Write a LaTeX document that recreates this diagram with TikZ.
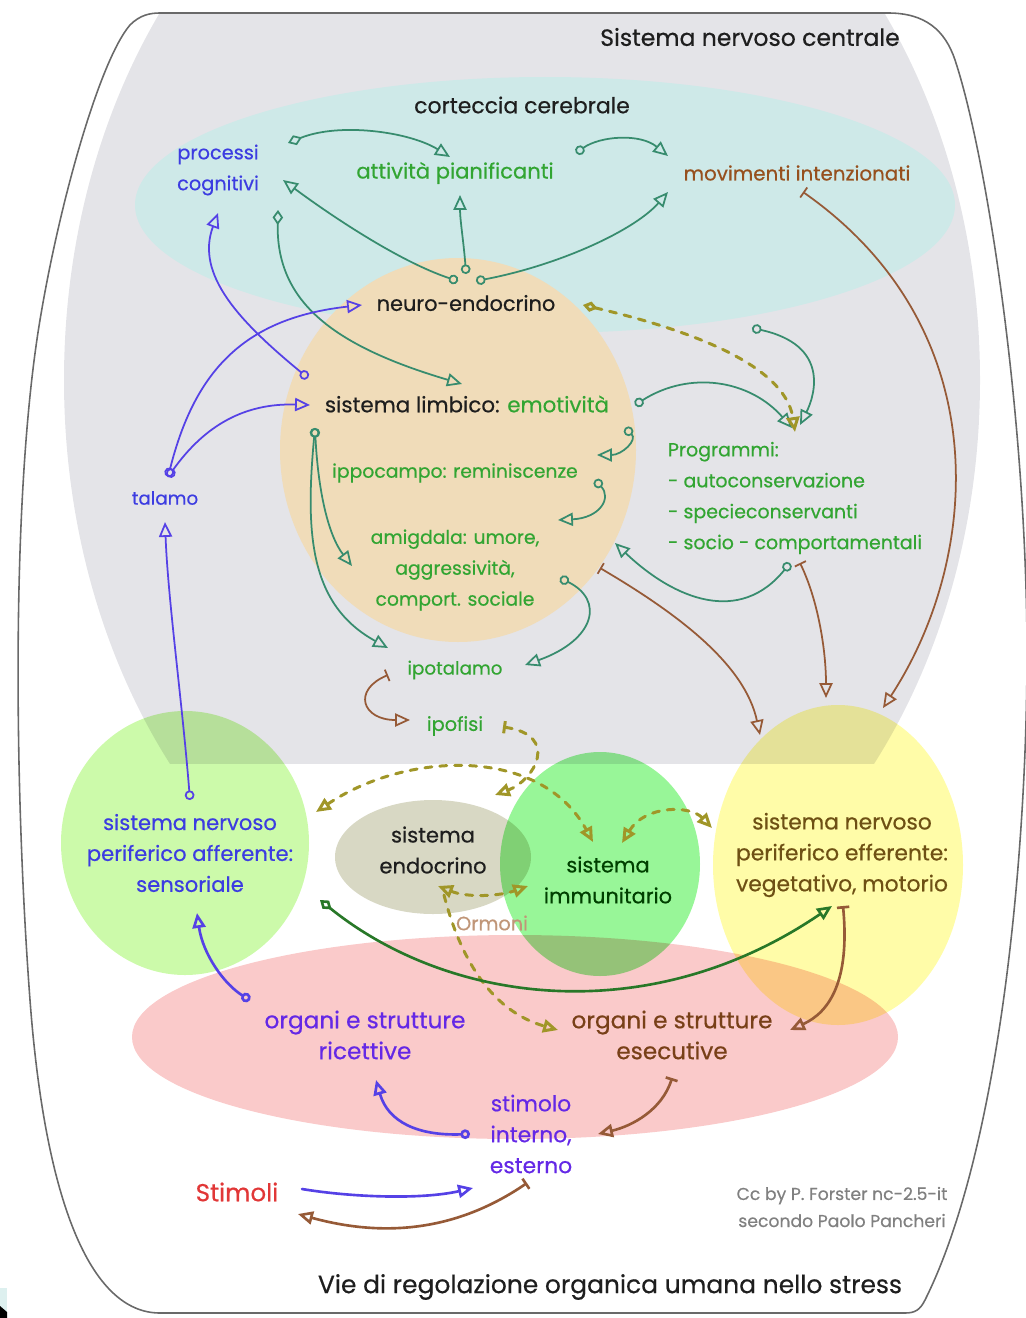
\documentclass[tikz,border=0pt]{standalone}
\usepackage{fontspec}
\setmainfont{Poppins}[FakeBold=0.5]
\usetikzlibrary{arrows.meta}
\tikzset{
  tri/.tip={Triangle[open,length=8.5pt,width=7.5pt]},
  ring/.tip={Circle[open,length=5.5pt]},
  dia/.tip={Diamond[open,length=8.5pt,width=6pt]},
  stop/.tip={Bar[width=7pt]},
  lbl/.style={align=center, inner sep=2pt, font=\txtsize{#1}},
  lbl/.default=11,
  link/.style={line width=1pt, line cap=round},
  link-teal/.style={link, draw=linkteal},
  link-blue/.style={link, draw=linkblue},
  link-brown/.style={link, draw=linkbrown},
  link-strong/.style={line width=1.5pt},
  link-dash/.style={link, draw=hormone, line width=1.7pt, dash pattern=on 4pt off 4.5pt},
  blob/.style={blend mode=multiply}
}
\definecolor{inkblack}{RGB}{30,30,30}
\definecolor{framegray}{RGB}{105,105,105}
\definecolor{cnsgray}{RGB}{228,228,232}
\definecolor{cortexcyan}{RGB}{206,233,232}
\definecolor{limbicpeach}{RGB}{240,220,185}
\definecolor{affgreen}{RGB}{204,250,170}
\definecolor{endogray}{RGB}{216,216,196}
\definecolor{immugreen}{RGB}{152,246,152}
\definecolor{effyellow}{RGB}{255,252,168}
\definecolor{organpink}{RGB}{250,202,202}
\definecolor{txtgreen}{RGB}{50,165,50}
\definecolor{txtblue}{RGB}{60,60,225}
\definecolor{txtviolet}{RGB}{100,40,230}
\definecolor{txtbrown}{RGB}{150,80,30}
\definecolor{txtolive}{RGB}{110,80,20}
\definecolor{txtred}{RGB}{225,55,55}
\definecolor{linkteal}{RGB}{55,140,110}
\definecolor{linkblue}{RGB}{85,65,230}
\definecolor{linkbrown}{RGB}{150,90,55}
\definecolor{linkgreen}{RGB}{40,120,40}
\definecolor{hormone}{RGB}{160,150,40}
\newcommand{\txtsize}[1]{\fontsize{#1}{17.6}\selectfont}
\newcommand{\stressframe}[1]{
  \path[#1] (160,13) -- (888,13)
    .. controls (925,13) and (945,30) .. (955,60)
    .. controls (985,150) and (1025,400) .. (1027,640)
    .. controls (1028,850) and (1000,1150) .. (925,1300)
    .. controls (920,1310) and (915,1313) .. (905,1313)
    -- (160,1313)
    .. controls (90,1313) and (45,1200) .. (30,1000)
    .. controls (15,800) and (10,500) .. (40,320)
    .. controls (60,200) and (100,60) .. (130,25)
    .. controls (140,15) and (150,13) .. (160,13) -- cycle;
}

\begin{document}
\begin{tikzpicture}[x=0.02cm, y=-0.02cm]
  \useasboundingbox (0,0) rectangle (1025,1318);
  % Central nervous system (Background)
  \begin{scope}
    \stressframe{clip}
    \clip (0,0) rectangle (1025,763);
    \fill[cnsgray] (522,380) ellipse [x radius=458, y radius=600];
  \end{scope}
  \fill[cortexcyan] (545,205) ellipse [x radius=410, y radius=128];
  \fill[limbicpeach] (458,450) ellipse [x radius=178, y radius=192];
  % Peripheral systems and organs
  \begin{scope}[blob]
    \fill[affgreen] (185,843) ellipse [x radius=124, y radius=132];
    \fill[endogray] (433,857) ellipse [x radius=98, y radius=57];
    \fill[immugreen] (600,864) ellipse [x radius=100, y radius=112];
    \fill[effyellow] (838,865) ellipse [x radius=125, y radius=160];
    \fill[organpink] (515,1037) ellipse [x radius=383, y radius=102];
  \end{scope}
  \stressframe{draw=framegray, line width=0.9pt}
  \fill[cortexcyan!70!white] (0,1288) rectangle (7,1318);
  \fill[black] (0,1318) -- (0,1306) -- (7,1312) -- (7,1318) -- cycle;

  % Labels
  \node[lbl=13.4, text=inkblack] (cns) at (750,37) {Sistema nervoso centrale};
  \node[lbl=12.5, text=inkblack] (cortex) at (522,105) {corteccia cerebrale};
  \node[lbl, text=txtblue] (procog) at (218,170) {processi\\cognitivi};
  \node[lbl=12, text=txtgreen] (plan) at (455,173) {attività pianificanti};
  \node[lbl=11.3, text=txtbrown] (moves) at (797,173) {movimenti intenzionati};
  \node[lbl=11.9, text=inkblack] (neuro) at (466,303) {neuro-endocrino};
  \node[lbl=12.2, text=inkblack] (limbic) at (467,404) {sistema limbico: {\color{txtgreen}emotività}};
  \node[lbl=10.7, text=txtgreen] (hippo) at (455,473) {ippocampo: reminiscenze};
  \node[lbl=10.7, text=txtgreen] (amyg) at (455,570) {amigdala: umore,\\aggressività,\\comport. sociale};
  \node[lbl=10.4, text=txtgreen] (hypoth) at (455,670) {ipotalamo};
  \node[lbl=11, text=txtgreen] (pituit) at (455,726) {ipofisi};
  \node[lbl=10.4, text=txtblue] (thal) at (165,498) {talamo};
  \node[lbl=10.8, text=txtgreen, align=left] (progr) at (795,498) {Programmi:\\- autoconservazione\\- specieconservanti\\- socio - comportamentali};
  \node[lbl=12, text=txtblue] (aff) at (190,853) {sistema nervoso\\periferico afferente:\\sensoriale};
  \node[lbl=12, text=inkblack] (endo) at (433,850) {sistema\\endocrino};
  \node[lbl=11.9, text=green!25!black] (immu) at (608,880) {sistema\\immunitario};
  \node[lbl=12.4, text=txtolive] (eff) at (842,855) {sistema nervoso\\periferico efferente:\\vegetativo, motorio};
  \node[lbl, text=txtbrown!60!white] (ormoni) at (492,923) {Ormoni};
  \node[lbl=13.2, text=txtviolet] (recep) at (365,1035) {organi e strutture\\ricettive};
  \node[lbl=13.2, text=txtbrown!80!black] (exec) at (672,1035) {organi e strutture\\esecutive};
  \node[lbl=12.4, text=txtviolet] (stimin) at (531,1134) {stimolo\\interno,\\esterno};
  \node[lbl=14, text=txtred] (stimuli) at (237,1192) {Stimoli};
  \node[lbl, text=gray, font=\fontsize{9.8}{15.4}\selectfont] (credit) at (842,1207) {Cc by P. Forster nc-2.5-it\\secondo Paolo Pancheri};
  \node[lbl=14.2, text=inkblack] (title) at (610,1287) {Vie di regolazione organica umana nello stress};

  % Cortex links
  \draw[link-teal, dia-tri] ([shift={(70,-27)}]procog.center) .. controls (340,122) and (410,132) .. ([shift={(-5,-16)}]plan.center);
  \draw[link-teal, ring-tri] ([shift={(121,-20)}]plan.center) .. controls (600,136) and (640,133) .. ([shift={(-129,-17)}]moves.center);
  \draw[link-teal, ring-tri] ([shift={(-8,-22)}]neuro.center) .. controls (400,262) and (330,215) .. ([shift={(65,10)}]procog.center);
  \draw[link-teal, ring-tri] ([shift={(0,-29)}]neuro.center) .. controls (464,245) and (460,220) .. ([shift={(5,22)}]plan.center);
  \draw[link-teal, ring-tri] ([shift={(10,-22)}]neuro.center) .. controls (560,265) and (635,230) .. ([shift={(-129,19)}]moves.center);
  \draw[link-teal, dia-tri] ([shift={(60,40)}]procog.center) .. controls (276,300) and (330,345) .. ([shift={(-5,-20)}]limbic.center);
  % Thalamus links
  \draw[link-blue, ring-tri] ([shift={(-159,-26)}]limbic.center) .. controls (240,322) and (195,275) .. ([shift={(0,43)}]procog.center);
  \draw[link-blue, ring-tri] ([shift={(3,-21)}]thal.center) .. controls (195,370) and (245,318) .. ([shift={(-104,2)}]neuro.center);
  \draw[link-blue, ring-tri] ([shift={(3,-21)}]thal.center) .. controls (205,425) and (245,403) .. ([shift={(-157,1)}]limbic.center);
  \draw[link-blue, ring-tri] ([shift={(0,-53)}]aff.center) .. controls (182,700) and (168,600) .. ([shift={(0,24)}]thal.center);
  % Limbic links
  \draw[link-teal, ring-tri] ([shift={(-152,24)}]limbic.center) .. controls (318,490) and (328,535) .. ([shift={(-103,-4)}]amyg.center);
  \draw[link-teal, ring-tri] ([shift={(-152,24)}]limbic.center) .. controls (305,535) and (310,605) .. ([shift={(-67,-22)}]hypoth.center);
  \draw[link-teal, ring-tri] ([shift={(168,1)}]limbic.center) .. controls (690,370) and (750,380) .. ([shift={(-3,-70)}]progr.center);
  \draw[link-teal, ring-tri] ([shift={(-45,155)}]moves.center) .. controls (830,345) and (815,395) .. ([shift={(5,-73)}]progr.center);
  \draw[link-teal, ring-tri] ([shift={(158,24)}]limbic.center) .. controls (638,440) and (622,455) .. ([shift={(142,-18)}]hippo.center);
  \draw[link-teal, ring-tri] ([shift={(140,7)}]hippo.center) .. controls (612,498) and (600,518) .. ([shift={(103,-50)}]amyg.center);
  \draw[link-teal, ring-tri] ([shift={(-5,65)}]progr.center) .. controls (740,625) and (675,600) .. ([shift={(148,139)}]limbic.center);
  \draw[link-teal, ring-tri] ([shift={(105,8)}]amyg.center) .. controls (605,600) and (595,640) .. ([shift={(70,-5)}]hypoth.center);
  \draw[link-dash, dia-tri] ([shift={(117,2)}]neuro.center) .. controls (690,330) and (785,365) .. ([shift={(0,-66)}]progr.center);
  % Efferent links
  \draw[link-brown, stop-tri] ([shift={(145,-2)}]amyg.center) .. controls (680,615) and (745,665) .. ([shift={(-82,-120)}]eff.center);
  \draw[link-brown, stop-tri] ([shift={(5,65)}]progr.center) .. controls (818,600) and (826,650) .. ([shift={(-16,-157)}]eff.center);
  \draw[link-brown, stop-tri] ([shift={(6,19)}]moves.center) .. controls (1000,330) and (980,560) .. ([shift={(41,-147)}]eff.center);
  \draw[link-brown, stop-tri] ([shift={(-67,5)}]hypoth.center) .. controls (352,690) and (362,720) .. ([shift={(-45,-6)}]pituit.center);
  % Hormone links
  \draw[link-dash, stop-tri] ([shift={(48,1)}]pituit.center) .. controls (560,735) and (535,780) .. ([shift={(62,-55)}]endo.center);
  \draw[link-dash, tri-tri] ([shift={(126,-41)}]aff.center) .. controls (405,752) and (540,745) .. ([shift={(-15,-38)}]immu.center);
  \draw[link-dash, tri-tri] ([shift={(14,-37)}]immu.center) .. controls (645,805) and (690,805) .. ([shift={(-130,-27)}]eff.center);
  \draw[link-dash, tri-tri] ([shift={(5,36)}]endo.center) .. controls (468,898) and (500,896) .. ([shift={(-80,6)}]immu.center);
  \draw[link-dash, -tri] ([shift={(11,45)}]endo.center) .. controls (462,965) and (495,1012) .. ([shift={(-114,-5)}]exec.center);
  % Reflex loop
  \draw[link, link-strong, draw=linkgreen, dia-tri] ([shift={(130,47)}]aff.center) .. controls (450,1005) and (650,1030) .. ([shift={(-10,51)}]eff.center);
  \draw[link-brown, link-strong, stop-tri] ([shift={(1,51)}]eff.center) .. controls (850,980) and (830,1012) .. ([shift={(118,-5)}]exec.center);
  \draw[link-blue, link-strong, ring-tri] ([shift={(-115,-35)}]recep.center) .. controls (225,985) and (203,955) .. ([shift={(7,60)}]aff.center);
  \draw[link-blue, link-strong, ring-tri] ([shift={(-61,0)}]stimin.center) .. controls (418,1136) and (388,1122) .. ([shift={(11,45)}]recep.center);
  \draw[link-brown, link-strong, stop-tri] ([shift={(0,43)}]exec.center) .. controls (662,1110) and (632,1126) .. ([shift={(67,0)}]stimin.center);
  \draw[link-blue, link-strong, -tri] ([shift={(65,-3)}]stimuli.center) .. controls (350,1197) and (420,1200) .. ([shift={(-58,54)}]stimin.center);
  \draw[link-brown, link-strong, stop-tri] ([shift={(-4,49)}]stimin.center) .. controls (470,1222) and (400,1242) .. ([shift={(61,22)}]stimuli.center);
\end{tikzpicture}
\end{document}
